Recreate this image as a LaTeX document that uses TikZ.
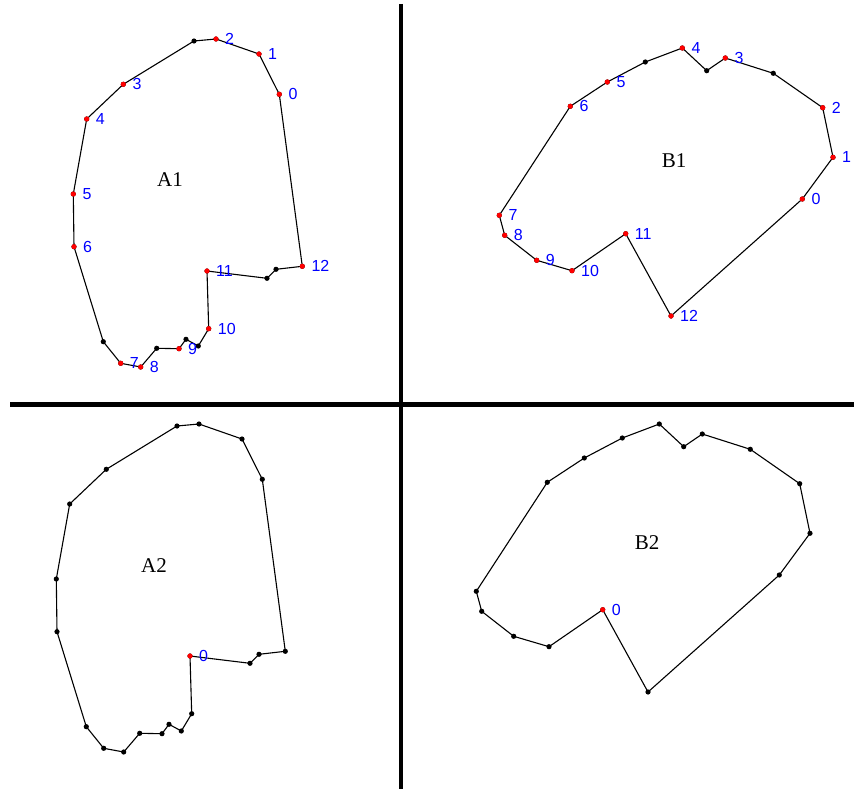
\documentclass[tikz,border=0pt]{standalone}
\usepackage{fontspec}
\setmainfont{Liberation Serif}
\newfontfamily\numfont{Liberation Sans}
\tikzset{
  edge/.style={line width=1.1pt, black},
  sep/.style={line width=4.4pt, black},
  lbl/.style={anchor=west, inner sep=0pt, text=blue, font=\numfont\fontsize{16}{16}\selectfont},
  title/.style={font=\fontsize{21}{21}\selectfont},
}
\begin{document}
\begin{tikzpicture}[x=1pt, y=-1pt]
\useasboundingbox (0,0) rectangle (854,789);
% points of shape A and shape B (pixel coordinates)
\def\ptsA{279.3/94.3, 259/54, 216/39, 194/41, 123.3/84.3, 86.7/119, 73.3/194, 74/246.7, 103.3/341.7, 120.7/363.3, 140.7/367, 156.7/348.3, 179/348.7, 186/339.3, 198.3/346, 208.7/328.7, 207/271, 267/278.3, 276/269.3, 302.3/266.3}
\def\ptsB{802.3/199, 833/157.3, 822.7/107.7, 773.3/73.3, 725.3/58, 706.7/70.7, 682.3/48, 645.3/62, 607.3/82, 570.3/106.3, 499.3/215.3, 504.7/235.3, 536.7/260.3, 572/270.7, 625.7/233.7, 671/316}
\def\dot{2.6}

% separating lines
\draw[sep] (400.7,4) -- (400.7,789);
\draw[sep] (10,404.5) -- (854,404.5);

% A1
\foreach \x/\y [count=\i from 0] in \ptsA {\coordinate (a\i) at (\x,\y);}
\draw[edge] (a0) \foreach \i in {1,...,19} {-- (a\i)} -- cycle;
\foreach \i in {0,...,19} \fill (a\i) circle (\dot);
\foreach \i/\t in {0/0,1/1,2/2,4/3,5/4,6/5,7/6,9/7,10/8,12/9,15/10,16/11,19/12} {
  \fill[red] (a\i) circle (\dot);
  \node[lbl] (la\t) at ([xshift=9pt]a\i) {\t};
}
\node[title] (nA1) at (170,180) {A1};

% A2
\begin{scope}[shift={(-17,385)}]
\foreach \x/\y [count=\i from 0] in \ptsA {\coordinate (c\i) at (\x,\y);}
\end{scope}
\draw[edge] (c0) \foreach \i in {1,...,19} {-- (c\i)} -- cycle;
\foreach \i in {0,...,19} \fill (c\i) circle (\dot);
\fill[red] (c16) circle (\dot);
\node[lbl] (lc0) at ([xshift=9pt]c16) {0};
\node[title] (nA2) at (154,566) {A2};

% B1
\foreach \x/\y [count=\i from 0] in \ptsB {\coordinate (b\i) at (\x,\y);}
\draw[edge] (b0) \foreach \i in {1,...,15} {-- (b\i)} -- cycle;
\foreach \i in {0,...,15} \fill (b\i) circle (\dot);
\foreach \i/\t in {0/0,1/1,2/2,4/3,6/4,8/5,9/6,10/7,11/8,12/9,13/10,14/11,15/12} {
  \fill[red] (b\i) circle (\dot);
  \node[lbl] (lb\t) at ([xshift=9pt]b\i) {\t};
}
\node[title] (nB1) at (674,161) {B1};

% B2
\begin{scope}[shift={(-23,376)}]
\foreach \x/\y [count=\i from 0] in \ptsB {\coordinate (d\i) at (\x,\y);}
\end{scope}
\draw[edge] (d0) \foreach \i in {1,...,15} {-- (d\i)} -- cycle;
\foreach \i in {0,...,15} \fill (d\i) circle (\dot);
\fill[red] (d14) circle (\dot);
\node[lbl] (ld0) at ([xshift=9pt]d14) {0};
\node[title] (nB2) at (647,543) {B2};
\end{tikzpicture}
\end{document}
